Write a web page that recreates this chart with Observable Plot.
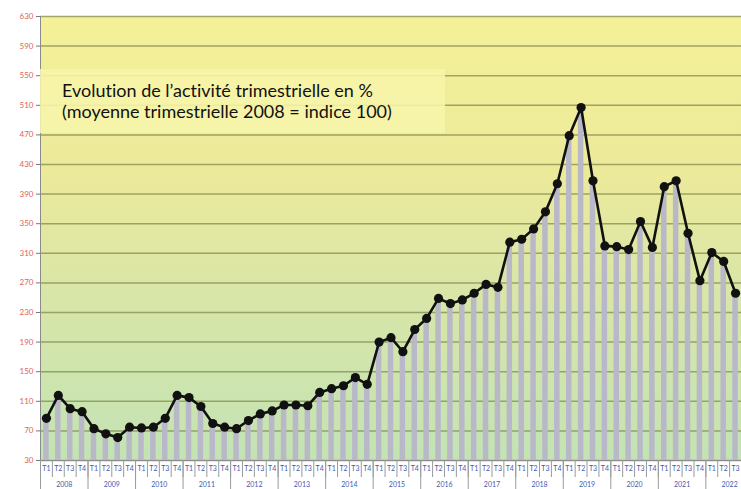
<!DOCTYPE html>
<html><head><meta charset="utf-8">
<script src="https://cdn.jsdelivr.net/npm/d3@7"></script>
<script src="https://cdn.jsdelivr.net/npm/@observablehq/plot@0.6"></script>
<style>
html,body{margin:0;padding:0;background:#fff;overflow:hidden}
#wrap{position:relative;width:741px;height:489px}
#title{position:absolute;left:40px;top:69px;width:405px;height:64px;background:rgba(247,245,170,0.88);font-family:Lato,sans-serif;font-size:18px;line-height:21px;color:#111;padding:10.5px 0 0 22px;box-sizing:border-box;white-space:nowrap;font-variant-ligatures:none}
</style></head><body>
<svg width="0" height="0" style="position:absolute">
  <defs>
    <linearGradient id="bg" x1="0" y1="0" x2="0" y2="1">
      <stop offset="0%" stop-color="#f4f198"/>
      <stop offset="35%" stop-color="#ecea9a"/>
      <stop offset="62%" stop-color="#d9e6a8"/>
      <stop offset="100%" stop-color="#c3e3b4"/>
    </linearGradient>
  </defs>
</svg>
<div id="wrap"><div id="chart"></div><div id="title">Evolution de l’activité trimestrielle en %<br>(moyenne trimestrielle 2008 = indice 100)</div></div>
<script>
const years = [2008, 2009, 2010, 2011, 2012, 2013, 2014, 2015, 2016, 2017, 2018, 2019, 2020, 2021, 2022];
const quarterLabels = ["T1", "T2", "T3", "T4"];
const values = [
  87, 118, 100, 96,
  73, 66, 61, 75,
  74, 75, 87, 118,
  115, 103, 80, 75,
  73, 84, 93, 97,
  105, 105, 104, 122,
  127, 131, 142, 133,
  190, 196, 177, 207,
  222, 249, 242, 247,
  256, 268, 264, 325,
  329, 343, 366, 404,
  469, 507, 408, 320,
  319, 315, 353, 318,
  400, 408, 337, 273,
  311, 299, 256
];
const yTicks = [30, 70, 110, 150, 190, 230, 270, 310, 350, 390, 430, 470, 510, 550, 590, 630];

const rows = values.map((v, i) => ({i, v, q: quarterLabels[i % 4], year: years[Math.floor(i / 4)]}));
const yearRows = years.map((year, k) => ({year, first: k * 4}));

const chart = Plot.plot({
  width: 741,
  height: 489,
  marginLeft: 40,
  marginRight: 0,
  marginTop: 16,
  marginBottom: 29,
  style: {background: "transparent", fontFamily: "Lato, sans-serif"},
  x: {type: "linear", domain: [-0.5, values.length - 0.5], axis: null},
  y: {domain: [30, 630]},
  marks: [
    Plot.frame({fill: "url(#bg)", stroke: "none"}),
    Plot.ruleY(yTicks, {stroke: "#7f8848", strokeWidth: 1.5, strokeOpacity: 0.72}),
    Plot.rectY(rows, {x1: d => d.i - 0.5, x2: d => d.i + 0.5, y1: 30, y2: "v", insetLeft: 3.2, insetRight: 3.2, fill: "#b8b8c9"}),
    Plot.ruleX([-0.5], {stroke: "#8a8a8a"}),
    Plot.ruleY([30], {stroke: "#8a8a8a"}),
    Plot.axisY({ticks: yTicks, tickSize: 4, tickPadding: 3, fontSize: 8, fill: "#e0625c", stroke: "#777", label: null}),
    Plot.line(rows, {x: "i", y: "v", stroke: "#111", strokeWidth: 2.6}),
    Plot.dot(rows, {x: "i", y: "v", r: 4.6, fill: "#111", stroke: "none"}),
    // x-axis table: quarter row and year row
    Plot.ruleX(rows, {x: d => d.i + 0.5, stroke: "#9a9a9a", insetTop: 444, insetBottom: -17}),
    Plot.ruleX(yearRows, {x: d => d.first - 0.5, stroke: "#9a9a9a", insetTop: 444, insetBottom: -29}),
    Plot.text(rows, {x: "i", text: "q", frameAnchor: "bottom", dy: 10, fontSize: 7, fill: "#3f5bb0"}),
    Plot.text(yearRows, {x: d => d.first + 1.5, text: d => String(d.year), frameAnchor: "bottom", dy: 26, fontSize: 7, fill: "#3f5bb0"})
  ]
});
document.getElementById("chart").append(chart);
</script>
</body></html>
